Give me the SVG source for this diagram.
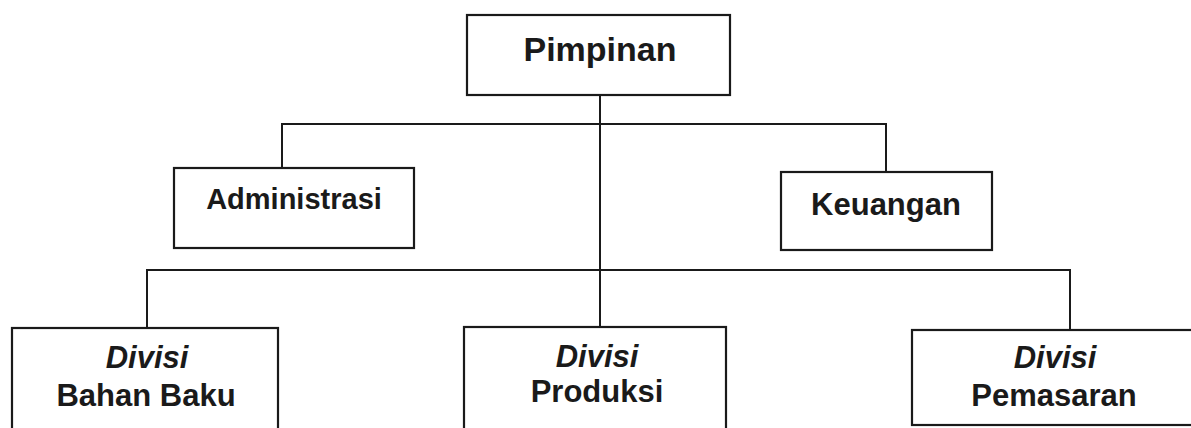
<svg xmlns="http://www.w3.org/2000/svg" width="1191" height="428" viewBox="0 0 1191 428">
  <style>
    .box { fill: #ffffff; stroke: #1a1a1a; stroke-width: 2.2; }
    .line { fill: none; stroke: #1a1a1a; stroke-width: 2; }
    .label { font-family: "Liberation Sans", Arial, sans-serif; font-weight: bold; fill: #1a1a1a; text-anchor: middle; font-size: 31px; }
    .it { font-style: italic; }
  </style>
  <rect width="1191" height="428" fill="#ffffff"/>

  <!-- connectors -->
  <g id="connectors">
    <path class="line" d="M600 95 V327"/>
    <path class="line" d="M282 168 V124 H886 V172"/>
    <path class="line" d="M147 328 V270 H1070 V330"/>
  </g>

  <g id="pimpinan">
    <rect class="box" x="467" y="15" width="263" height="80"/>
    <text class="label" x="600" y="61" style="font-size:34px">Pimpinan</text>
  </g>

  <g id="administrasi">
    <rect class="box" x="174" y="168" width="240" height="80"/>
    <text class="label" x="294" y="209" style="font-size:29px">Administrasi</text>
  </g>

  <g id="keuangan">
    <rect class="box" x="781" y="172" width="211" height="78"/>
    <text class="label" x="886" y="215">Keuangan</text>
  </g>

  <g id="divisi-bahan-baku">
    <rect class="box" x="12" y="328" width="266" height="110"/>
    <text class="label it" x="147" y="368">Divisi</text>
    <text class="label" x="146" y="406">Bahan Baku</text>
  </g>

  <g id="divisi-produksi">
    <rect class="box" x="464" y="327" width="262" height="111"/>
    <text class="label it" x="597" y="367">Divisi</text>
    <text class="label" x="597" y="402">Produksi</text>
  </g>

  <g id="divisi-pemasaran">
    <rect class="box" x="912" y="330" width="290" height="95"/>
    <text class="label it" x="1055" y="368">Divisi</text>
    <text class="label" x="1054" y="406">Pemasaran</text>
  </g>
</svg>
